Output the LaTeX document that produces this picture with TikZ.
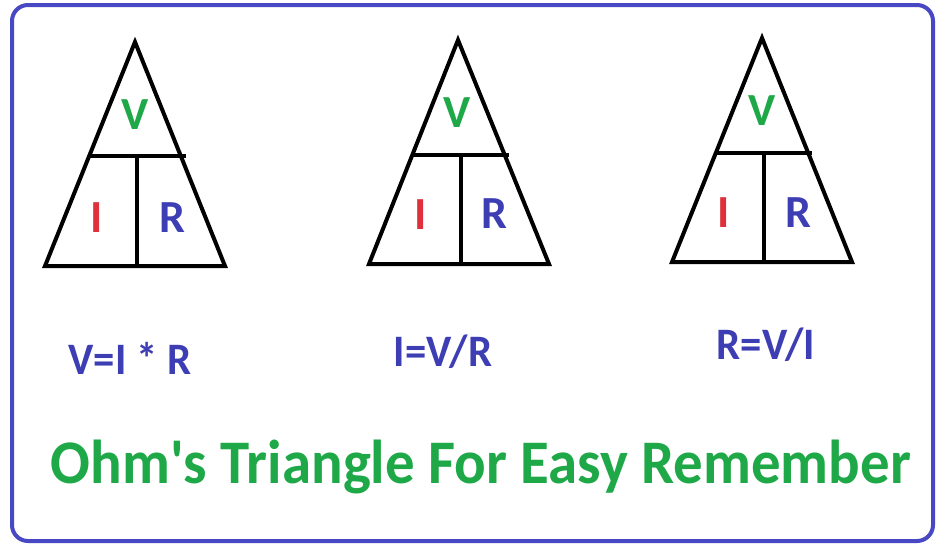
\documentclass[tikz,border=0pt]{standalone}
\usepackage{fontspec}
\setmainfont{Carlito}
\definecolor{frameblue}{HTML}{4848C4}
\definecolor{txtblue}{HTML}{3E3EB4}
\definecolor{vgreen}{HTML}{1FA848}
\definecolor{ired}{HTML}{E0303C}
\tikzset{
  tri/.style={draw=black, line width=4pt, line join=miter},
  bar/.style={draw=black, line width=3.5pt},
  letter/.style={font=\bfseries\fontsize{46}{46}\selectfont, inner sep=0pt},
  formula/.style={font=\bfseries\fontsize{45}{45}\selectfont, text=txtblue, inner sep=0pt, xscale=0.95},
  title/.style={font=\bfseries\fontsize{62}{62}\selectfont, text=vgreen, inner sep=0pt, xscale=0.95}
}
\begin{document}
\begin{tikzpicture}[x=1pt,y=-1pt]
\useasboundingbox (0,0) rectangle (937,544);
\draw[frameblue, line width=4pt, rounded corners=16pt] (12,5) rectangle (933,541);
% triangle 1
\coordinate (a1) at (135,42); \coordinate (l1) at (45,266); \coordinate (r1) at (225,266);
\coordinate (h1a) at (88,156); \coordinate (h1b) at (186,156);
\coordinate (v1a) at (137,156); \coordinate (v1b) at (137,266);
\draw[tri] (a1) -- (l1) -- (r1) -- cycle;
\draw[bar] (h1a) -- (h1b);
\draw[bar] (v1a) -- (v1b);
\node[letter, text=vgreen] (V1) at (135,115) {V};
\node[letter, text=ired] (I1) at (97,218) {I};
\node[letter, text=txtblue] (R1) at (172,218) {R};
% triangle 2
\coordinate (a2) at (458,40); \coordinate (l2) at (369,264); \coordinate (r2) at (549,264);
\coordinate (h2a) at (412,155); \coordinate (h2b) at (509,155);
\coordinate (v2a) at (461,155); \coordinate (v2b) at (461,264);
\draw[tri] (a2) -- (l2) -- (r2) -- cycle;
\draw[bar] (h2a) -- (h2b);
\draw[bar] (v2a) -- (v2b);
\node[letter, text=vgreen] (V2) at (457,113) {V};
\node[letter, text=ired] (I2) at (421,215) {I};
\node[letter, text=txtblue] (R2) at (494,214) {R};
% triangle 3
\coordinate (a3) at (762,38); \coordinate (l3) at (672,262); \coordinate (r3) at (852,262);
\coordinate (h3a) at (715,153); \coordinate (h3b) at (812,153);
\coordinate (v3a) at (764,153); \coordinate (v3b) at (764,262);
\draw[tri] (a3) -- (l3) -- (r3) -- cycle;
\draw[bar] (h3a) -- (h3b);
\draw[bar] (v3a) -- (v3b);
\node[letter, text=vgreen] (V3) at (762,111) {V};
\node[letter, text=ired] (I3) at (724,213) {I};
\node[letter, text=txtblue] (R3) at (798,213) {R};
% formulas
\node[formula] (f1) at (130,358) {V=I * R};
\node[formula] (f2) at (443,352) {I=V/R};
\node[formula] (f3) at (766,345) {R=V/I};
% title
\node[title] (t) at (481,467) {Ohm\textquotesingle s Triangle For Easy Remember};
\end{tikzpicture}
\end{document}
